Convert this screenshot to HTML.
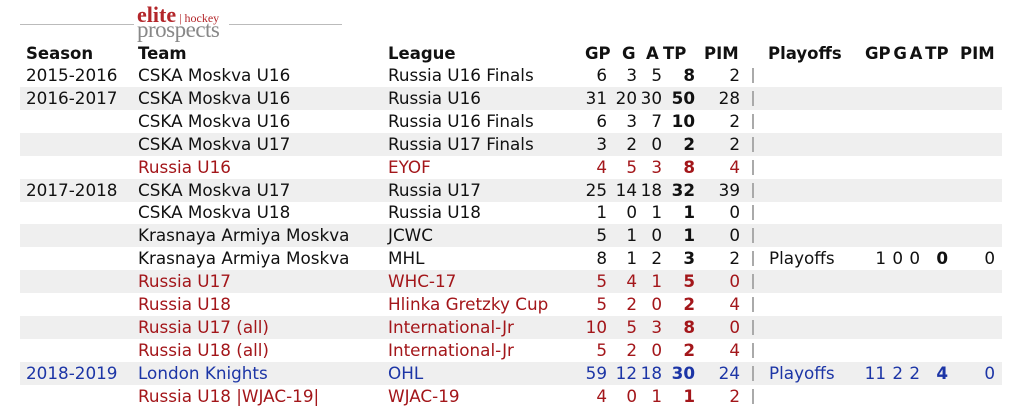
<!DOCTYPE html>
<html><head><meta charset="utf-8"><style>
body{margin:0;width:1024px;height:418px;background:#fff;position:relative;overflow:hidden;font-family:"DejaVu Sans","Liberation Sans",sans-serif;font-size:16.8px;color:#111}
.row{position:absolute;left:20px;width:982px;height:23px}
.s{background:#efefef}
.t{position:absolute;line-height:23px;white-space:nowrap}
.r{position:absolute;line-height:23px;white-space:nowrap;text-align:right}
.b{font-weight:bold}
.red{color:#a3161a}.blue{color:#1c35a6}
.p{position:absolute;left:752px;width:1.5px;height:15px;background:#aaa}
.h{font-weight:bold;position:absolute;top:42px;line-height:23px;white-space:nowrap;font-size:16.5px}
</style></head><body>
<div style="position:absolute;left:20px;top:24px;width:114px;height:1px;background:#bbb"></div>
<div style="position:absolute;left:229px;top:24px;width:113px;height:1px;background:#bbb"></div>
<div style="position:absolute;left:137px;top:5px;font-family:'Liberation Serif',serif;font-weight:bold;font-size:22px;color:#b3262a;line-height:20px">elite<span style="font-size:12px;font-weight:normal;color:#b3262a"> | hockey</span></div>
<div style="position:absolute;left:137px;top:20px;font-family:'Liberation Serif',serif;font-size:23px;color:#888;line-height:20px;letter-spacing:-0.5px">prospects</div>

<div class="h" style="left:26px">Season</div>
<div class="h" style="left:138px">Team</div>
<div class="h" style="left:388px">League</div>
<div class="h" style="left:585px">GP</div>
<div class="h" style="left:622px">G</div>
<div class="h" style="left:646px">A</div>
<div class="h" style="left:663px">TP</div>
<div class="h" style="left:704px">PIM</div>
<div class="h" style="left:768px">Playoffs</div>
<div class="h" style="left:865px;word-spacing:-3px">GP G A TP</div>
<div class="h" style="left:960px">PIM</div>

<div id="rows"></div>
<script>
const d=[
["2015-2016","CSKA Moskva U16","Russia U16 Finals","6","3","5","8","2",""],
["2016-2017","CSKA Moskva U16","Russia U16","31","20","30","50","28",""],
["","CSKA Moskva U16","Russia U16 Finals","6","3","7","10","2",""],
["","CSKA Moskva U17","Russia U17 Finals","3","2","0","2","2",""],
["","Russia U16","EYOF","4","5","3","8","4","red"],
["2017-2018","CSKA Moskva U17","Russia U17","25","14","18","32","39",""],
["","CSKA Moskva U18","Russia U18","1","0","1","1","0",""],
["","Krasnaya Armiya Moskva","JCWC","5","1","0","1","0",""],
["","Krasnaya Armiya Moskva","MHL","8","1","2","3","2","",["1","0","0","0","0"]],
["","Russia U17","WHC-17","5","4","1","5","0","red"],
["","Russia U18","Hlinka Gretzky Cup","5","2","0","2","4","red"],
["","Russia U17 (all)","International-Jr","10","5","3","8","0","red"],
["","Russia U18 (all)","International-Jr","5","2","0","2","4","red"],
["2018-2019","London Knights","OHL","59","12","18","30","24","blue",["11","2","2","4","0"]],
["","Russia U18 |WJAC-19|","WJAC-19","4","0","1","1","2","red"]];
let h="";
const R=(x,v,c)=>`<span class="r ${c||''}" style="right:${1024-x}px">${v}</span>`;
d.forEach((r,i)=>{
 const top=64+i*22.9;
 let cls=r[8];
 h+=`<div class="row ${i%2?'s':''}" style="top:${top}px"></div>`;
 h+=`<div style="position:absolute;left:0;top:${top}px;width:1024px;height:23px" class="${cls}">`;
 h+=`<span class="t" style="left:26px;${cls=='blue'?'':'color:#111'}">${r[0]}</span>`;
 h+=`<span class="t" style="left:138px">${r[1]}</span><span class="t" style="left:388px">${r[2]}</span>`;
 h+=R(607,r[3])+R(637,r[4])+R(662,r[5])+R(695,r[6],'b')+R(740,r[7]);
 h+=`<span class="p" style="top:4px"></span>`;
 if(r[9]){const p=r[9];h+=`<span class="t" style="left:769px">Playoffs</span>`+R(886,p[0])+R(903,p[1])+R(920,p[2])+R(948,p[3],'b')+R(995,p[4]);}
 h+=`</div>`;
});
document.getElementById('rows').outerHTML=h;
</script>
</body></html>
